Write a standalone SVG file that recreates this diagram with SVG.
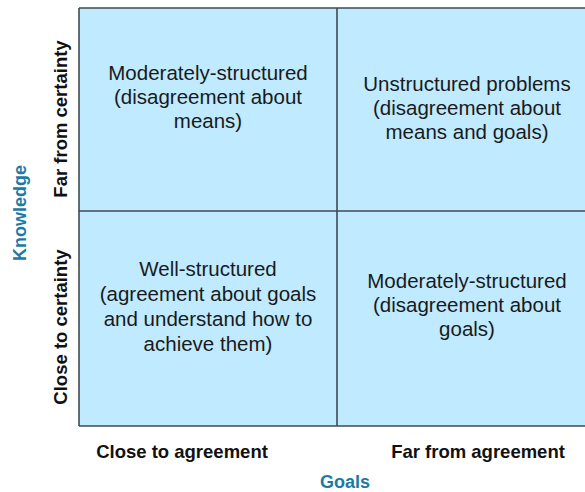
<svg xmlns="http://www.w3.org/2000/svg" width="585" height="492" viewBox="0 0 585 492">
<style>
.cell{fill:#bfeaff;stroke:none}
.line{stroke:#3f4a50;stroke-width:1.6;fill:none}
.ct{font-family:"Liberation Sans",Arial,sans-serif;font-size:20.5px;fill:#1a1a1a;text-anchor:middle}
.ax{font-family:"Liberation Sans",Arial,sans-serif;font-size:18.5px;font-weight:bold;fill:#111;text-anchor:middle}
.ttl{font-family:"Liberation Sans",Arial,sans-serif;font-size:18px;font-weight:bold;fill:#1b7aa5;text-anchor:middle}
</style>
<rect width="585" height="492" fill="#ffffff"/>
<g id="grid">
<rect class="cell" x="79" y="8" width="510" height="418"/>
</g>
<g id="connectors">
<line class="line" x1="79" y1="8" x2="589" y2="8" stroke="#8a9499"/>
<line class="line" x1="79" y1="8" x2="79" y2="426"/>
<line class="line" x1="79" y1="426" x2="589" y2="426"/>
<line class="line" x1="337" y1="8" x2="337" y2="426"/>
<line class="line" x1="79" y1="211" x2="589" y2="211"/>
</g>
<g id="cell-tl">
<text class="ct" x="208" y="80">Moderately-structured</text>
<text class="ct" x="208" y="104">(disagreement about</text>
<text class="ct" x="208" y="128">means)</text>
</g>
<g id="cell-tr">
<text class="ct" x="467" y="91">Unstructured problems</text>
<text class="ct" x="467" y="115">(disagreement about</text>
<text class="ct" x="467" y="139">means and goals)</text>
</g>
<g id="cell-bl">
<text class="ct" x="208" y="276">Well-structured</text>
<text class="ct" x="208" y="301">(agreement about goals</text>
<text class="ct" x="208" y="326">and understand how to</text>
<text class="ct" x="208" y="351">achieve them)</text>
</g>
<g id="cell-br">
<text class="ct" x="467" y="288">Moderately-structured</text>
<text class="ct" x="467" y="312">(disagreement about</text>
<text class="ct" x="467" y="336">goals)</text>
</g>
<g id="axis-y">
<text class="ax" transform="translate(67,119) rotate(-90)">Far from certainty</text>
<text class="ax" transform="translate(67,327) rotate(-90)">Close to certainty</text>
<text class="ttl" transform="translate(26,213) rotate(-90)">Knowledge</text>
</g>
<g id="axis-x">
<text class="ax" x="182" y="458">Close to agreement</text>
<text class="ax" x="478" y="458">Far from agreement</text>
<text class="ttl" x="345" y="488">Goals</text>
</g>
</svg>
